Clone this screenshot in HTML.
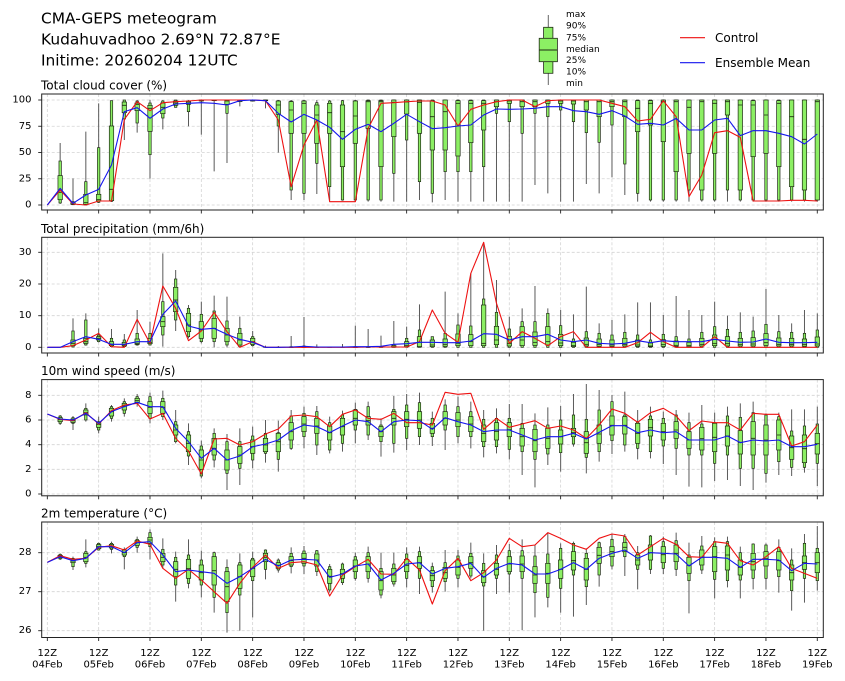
<!DOCTYPE html>
<html><head><meta charset="utf-8">
<style>
html,body{margin:0;padding:0;background:#fff;}
svg{display:block;font-family:"DejaVu Sans","Liberation Sans",sans-serif;}
</style></head><body>
<svg id="s" width="845" height="681" viewBox="0 0 845 681" xmlns="http://www.w3.org/2000/svg">
<rect width="845" height="681" fill="#fff"/>
<defs>
<clipPath id="c0"><rect x="41.7" y="94" width="781.6" height="116"/></clipPath>
<clipPath id="c1"><rect x="41.7" y="237.3" width="781.6" height="115.7"/></clipPath>
<clipPath id="c2"><rect x="41.7" y="379.6" width="781.6" height="116.2"/></clipPath>
<clipPath id="c3"><rect x="41.7" y="522" width="781.6" height="115.5"/></clipPath>
</defs>
<g id="grid"></g>
<g id="data"></g>
<g id="frames"></g>

<g fill="#000" font-size="15.4">
<text x="41" y="23.3">CMA-GEPS meteogram</text>
<text x="41" y="44.5">Kudahuvadhoo 2.69°N 72.87°E</text>
<text x="41" y="65.6">Initime: 20260204 12UTC</text>
</g>
<g fill="#000" font-size="12">
<text x="41" y="89.5">Total cloud cover (%)</text>
<text x="41" y="232.8">Total precipitation (mm/6h)</text>
<text x="41" y="375.1">10m wind speed (m/s)</text>
<text x="41" y="517.5">2m temperature (°C)</text>
<text x="715" y="42.2">Control</text>
<text x="715" y="67.2">Ensemble Mean</text>
</g>
<g fill="#000" font-size="10" text-anchor="end" dominant-baseline="central">
<text x="31.5" y="100">100</text><text x="31.5" y="126.25">75</text><text x="31.5" y="152.5">50</text><text x="31.5" y="178.75">25</text><text x="31.5" y="205">0</text>
<text x="31.5" y="252.3">30</text><text x="31.5" y="284">20</text><text x="31.5" y="315.7">10</text><text x="31.5" y="347.3">0</text>
<text x="31.5" y="395.3">8</text><text x="31.5" y="420">6</text><text x="31.5" y="444.7">4</text><text x="31.5" y="469.3">2</text><text x="31.5" y="494">0</text>
<text x="31.5" y="552.7">28</text><text x="31.5" y="591.7">27</text><text x="31.5" y="630.7">26</text>
</g>
<g fill="#000" font-size="10" text-anchor="middle">
<text x="47.33" y="656">12Z</text><text x="47.33" y="667.5">04Feb</text>
<text x="98.66" y="656">12Z</text><text x="98.66" y="667.5">05Feb</text>
<text x="149.99" y="656">12Z</text><text x="149.99" y="667.5">06Feb</text>
<text x="201.32" y="656">12Z</text><text x="201.32" y="667.5">07Feb</text>
<text x="252.65" y="656">12Z</text><text x="252.65" y="667.5">08Feb</text>
<text x="303.98" y="656">12Z</text><text x="303.98" y="667.5">09Feb</text>
<text x="355.31" y="656">12Z</text><text x="355.31" y="667.5">10Feb</text>
<text x="406.64" y="656">12Z</text><text x="406.64" y="667.5">11Feb</text>
<text x="457.97" y="656">12Z</text><text x="457.97" y="667.5">12Feb</text>
<text x="509.3" y="656">12Z</text><text x="509.3" y="667.5">13Feb</text>
<text x="560.63" y="656">12Z</text><text x="560.63" y="667.5">14Feb</text>
<text x="611.96" y="656">12Z</text><text x="611.96" y="667.5">15Feb</text>
<text x="663.29" y="656">12Z</text><text x="663.29" y="667.5">16Feb</text>
<text x="714.62" y="656">12Z</text><text x="714.62" y="667.5">17Feb</text>
<text x="765.95" y="656">12Z</text><text x="765.95" y="667.5">18Feb</text>
<text x="817.28" y="656">12Z</text><text x="817.28" y="667.5">19Feb</text>
</g>
<!-- legend boxplot glyph -->
<g>
<line x1="548.3" y1="15" x2="548.3" y2="85" stroke="#666" stroke-width="1"/>
<rect x="543.6" y="27.3" width="9.3" height="46" fill="#8cef64" stroke="#1e2a14" stroke-width="0.8"/>
<rect x="539.2" y="38.3" width="18.2" height="23.4" fill="#8cef64" stroke="#1e2a14" stroke-width="0.8"/>
<line x1="539.2" y1="50" x2="557.4" y2="50" stroke="#1e2a14" stroke-width="0.9"/>
</g>
<g fill="#000" font-size="9" dominant-baseline="central">
<text x="566" y="15">max</text>
<text x="566" y="26.7">90%</text>
<text x="566" y="38.3">75%</text>
<text x="566" y="50">median</text>
<text x="566" y="61">25%</text>
<text x="566" y="72.3">10%</text>
<text x="566" y="84">min</text>
</g>
<line x1="680" y1="37.7" x2="705" y2="37.7" stroke="#ee1111" stroke-width="1.1"/>
<line x1="680" y1="62.7" x2="705" y2="62.7" stroke="#1515ee" stroke-width="1.1"/>

<script>
(function(){
const NS="http://www.w3.org/2000/svg";
function el(t,a,p){const e=document.createElementNS(NS,t);for(const k in a)e.setAttribute(k,a[k]);p.appendChild(e);return e;}
const X=i=>47.33+12.833*i;
const gridG=document.getElementById('grid'),dataG=document.getElementById('data'),frG=document.getElementById('frames');
const L=41.7,R=823.3;
const P=[
{y0:90,top:94,bot:210,ticks:[100,126.25,152.5,178.75,205],
red:[345,300,342,345,333,333,88,35,62,38,35,33,30,30,30,30,30,32,90,290,165,90,335,335,335,115,40,38,35,33,33,45,108,58,45,35,30,30,50,32,30,30,30,30,40,50,93,88,32,80,320,255,128,122,142,333,333,333,331,331,333],
blue:[345,295,340,315,298,225,65,53,85,57,42,40,38,40,45,32,30,32,70,96,73,90,112,148,118,103,125,100,73,95,116,113,108,105,75,57,58,57,55,50,50,62,65,73,62,78,103,100,105,85,120,120,90,85,137,122,122,130,140,162,132],
box:[null,
[159,213,257,307,329,339,342],[265,335,338,342,343,344,345],[125,275,313,338,343,345,345],[40,173,313,329,333,337,339],[32,32,108,298,332,334,336],
[30,30,36,46,68,87,150],[30,33,39,43,62,99,128],[30,39,46,55,124,194,266],[30,33,39,52,71,84,118],[30,30,33,39,46,52,52],
[30,33,33,36,43,65,109],[30,30,30,31,33,33,134],[30,30,30,31,32,32,244],[30,30,31,33,43,70,219],[30,30,30,31,35,35,49],
[30,30,30,31,33,33,33],[30,30,30,31,32,32,55],[30,32,33,45,73,108,188],[30,33,35,60,130,300,330],[30,32,33,40,130,310,330],
[30,38,45,75,160,220,312],[30,33,40,68,130,290,332],[30,32,45,125,230,330,332],[30,32,33,78,160,330,335],[30,30,32,35,115,330,335],
[30,30,32,35,230,330,335],[30,30,30,37,140,250,335],[30,30,30,36,72,150,335],[30,30,30,37,130,275,330],[30,30,32,80,180,310,337],
[30,30,30,65,180,245,330],[30,30,32,40,198,245,335],[30,30,32,40,158,245,335],[30,30,32,40,120,230,335],[30,30,30,35,50,70,335],
[30,30,30,33,40,95,335],[30,30,30,35,50,130,335],[30,30,30,35,50,70,285],[30,30,30,33,40,80,310],[30,30,30,33,40,60,335],
[30,30,30,33,42,95,335],[30,30,30,35,60,128,282],[30,30,30,35,80,157,310],[30,30,30,35,50,105,262],[30,30,30,35,80,222,315],
[30,30,32,55,125,310,335],[30,30,32,40,105,330,335],[30,30,30,35,155,330,335],[30,30,30,35,245,330,335],[30,30,30,52,190,300,335],
[30,30,30,35,300,330,335],[30,30,30,40,190,330,335],[30,30,30,35,75,300,335],[30,30,30,45,300,330,335],[30,30,32,45,200,330,335],
[30,30,30,75,190,330,335],[30,30,32,40,230,330,335],[30,30,30,80,290,330,335],[30,30,30,148,300,330,335],[30,30,30,35,330,330,335]]},
{y0:225,top:237.3,bot:353,ticks:[252.3,284,315.7,347.3],
red:[367,367,362,345,325,365,367,283,355,183,250,347,318,262,320,367,350,367,367,367,367,367,367,367,367,366,366,366,366,350,255,325,352,145,52,235,355,320,340,362,335,320,367,367,367,367,353,322,350,367,367,367,335,367,367,367,367,367,367,367,367],
blue:[367,367,350,335,343,358,358,350,350,268,228,303,313,310,328,343,352,367,367,366,364,366,366,366,365,365,364,358,356,352,352,353,353,348,326,328,345,335,335,328,345,350,345,355,357,355,347,353,347,350,350,350,343,348,352,351,342,352,353,353,352],
box:[null,null,
[280,318,345,355,362,366,367],[265,285,340,350,355,360,362],[310,330,335,340,345,350,352],[312,340,350,358,362,365,367],
[327,345,352,360,363,365,367],[255,325,342,355,358,360,362],[290,325,340,352,356,360,362],[85,230,275,290,305,330,365],
[135,162,187,225,260,285,318],[240,250,265,300,320,335,340],[230,268,290,315,340,350,355],[212,258,280,310,340,350,367],
[215,288,310,330,350,360,367],[275,310,325,345,360,365,367],[318,335,340,350,358,362,365],[362,367,367,367,367,367,367],
[363,367,367,367,367,367,367],[333,365,366,367,367,367,367],[276,363,365,366,367,367,367],[358,367,367,367,367,367,367],
[366,367,367,367,367,367,367],[357,367,367,367,367,367,367],[302,365,366,367,367,367,367],[312,365,366,367,367,367,367],
[332,366,367,367,367,367,367],[288,358,362,365,367,367,367],[305,340,350,362,365,367,367],[238,315,335,365,366,367,367],
[335,335,345,360,365,367,367],[200,325,342,359,364,367,367],[265,300,327,355,362,367,367],[145,303,329,350,362,367,367],
[52,222,240,355,362,367,367],[165,262,304,345,359,367,367],[275,312,334,356,363,367,367],[250,290,305,345,362,367,367],
[183,290,321,352,361,367,367],[250,265,305,350,360,367,367],[255,302,328,354,362,367,367],[268,342,352,362,365,367,367],
[185,320,339,358,363,367,367],[295,325,342,359,364,367,367],[285,330,345,360,364,367,367],[268,322,340,358,363,367,367],
[232,330,345,360,364,367,367],[232,345,354,363,365,367,367],[270,328,344,359,364,367,367],[213,335,348,361,364,367,367],
[255,342,352,362,365,367,367],[270,322,340,358,363,367,367],[230,305,330,355,362,367,367],[272,313,335,356,363,367,367],
[262,322,340,358,363,367,367],[275,318,338,357,363,367,367],[192,298,326,353,361,367,367],[270,320,339,358,363,367,367],
[295,322,340,358,363,367,367],[255,325,342,359,364,367,367],[265,315,336,357,363,367,367]]},
{y0:370,top:379.6,bot:495.8,ticks:[395.3,420,444.7,469.3,494],
red:[132,148,152,128,162,122,105,100,147,130,205,243,312,207,205,225,215,192,177,138,135,140,170,133,120,145,148,130,158,158,165,67,73,70,178,145,172,162,152,175,168,180,205,165,117,130,157,128,115,138,182,153,158,158,180,130,133,133,228,215,165],
blue:[132,147,150,130,160,125,110,97,110,110,175,215,265,235,270,258,230,222,210,182,165,170,188,168,150,155,185,155,150,152,178,143,155,165,185,180,180,195,210,200,200,190,207,187,167,167,188,180,188,185,210,210,210,198,218,210,213,210,230,230,223],
box:[null,
[135,138,143,149,155,160,165],[138,143,147,152,157,160,180],[100,115,120,128,135,150,155],[140,155,158,163,172,180,190],[105,110,115,125,138,145,155],
[85,95,100,108,120,130,140],[72,80,85,92,97,100,110],[68,80,95,112,130,145,160],[62,85,95,112,130,140,150],[120,155,165,180,195,215,220],
[160,185,195,220,245,258,285],[212,228,240,270,298,318,325],[175,190,205,235,255,270,292],[192,215,240,270,300,310,360],[175,215,230,255,280,295,345],
[170,198,210,230,250,270,295],[150,190,205,225,245,250,278],[152,188,190,215,245,268,305],[120,138,158,185,210,235,240],[110,130,140,162,185,200,235],
[108,125,145,168,190,225,255],[140,158,168,188,210,240,250],[122,135,145,170,195,220,245],[98,118,120,145,165,180,220],[95,110,140,152,165,195,210],
[145,165,170,185,200,215,260],[78,118,125,145,165,220,248],[72,105,125,148,170,205,240],[68,98,125,150,175,200,225],[125,145,160,175,190,200,228],
[88,105,125,145,165,180,240],[80,110,128,150,170,200,220],[95,125,140,162,185,200,235],[120,148,165,190,215,230,262],[115,145,158,184,210,230,250],
[102,145,158,179,200,238,268],[102,160,175,200,228,245,315],[130,165,178,212,245,268,352],[112,165,175,205,235,252,285],[108,150,180,200,222,248,305],
[72,135,175,188,200,222,230],[42,148,185,218,250,262,310],[60,120,165,192,220,245,275],[75,95,138,166,195,212,252],[65,135,140,166,192,225,245],
[120,155,160,190,220,235,268],[110,138,148,173,198,245,265],[125,145,160,185,210,228,282],[120,135,155,180,205,235,315],[128,158,185,210,235,255,350],
[105,162,172,206,240,255,352],[128,158,160,202,245,280,333],[110,138,168,198,228,255,330],[100,142,182,217,252,295,348],[95,128,155,205,255,295,360],
[130,135,165,210,255,310,338],[128,140,150,195,240,275,315],[118,183,198,233,268,292,318],[118,168,195,236,278,292,308],[110,162,190,221,252,280,348]]},
{y0:510,top:522,bot:637.5,ticks:[552.7,591.7,630.7],
red:[157,137,148,145,112,107,120,93,103,175,205,178,210,245,280,220,172,135,175,158,155,165,258,195,170,148,192,193,145,180,282,182,145,212,188,150,85,110,105,68,85,105,118,85,72,78,135,110,85,103,140,142,95,100,152,165,140,110,175,190,205],
blue:[157,140,152,145,110,110,128,98,95,135,185,180,185,190,220,200,175,148,168,150,148,150,202,192,168,162,210,190,162,158,192,175,170,160,202,175,160,165,192,192,178,158,178,145,130,120,145,128,130,132,168,142,142,145,172,148,148,150,182,160,162],
box:[null,
[130,133,136,140,144,147,150],[140,145,148,153,158,170,180],[88,125,130,142,155,160,172],[98,100,104,110,116,120,122],[95,100,103,108,114,118,130],
[112,118,120,128,135,140,178],[80,88,92,98,106,112,128],[58,68,82,90,100,110,148],[85,118,130,142,155,165,175],[125,142,155,178,200,225,275],
[88,135,148,176,205,220,235],[122,150,165,188,210,225,262],[125,128,140,182,225,262,308],[148,172,185,230,275,308,368],[130,158,165,200,235,255,362],
[125,145,150,175,200,212,322],[118,120,130,142,155,178,208],[145,150,158,166,175,180,188],[112,130,140,152,165,170,190],[108,123,130,145,160,168,192],
[120,122,132,150,168,185,198],[162,170,178,199,220,240,248],[158,162,178,191,205,218,225],[128,140,150,168,185,205,212],[110,128,140,162,185,205,218],
[128,175,185,212,240,255,265],[128,162,175,195,215,222,230],[112,132,148,166,185,205,232],[110,125,140,158,175,205,252],[158,170,182,197,212,230,248],
[120,158,172,188,205,215,245],[120,138,150,172,195,205,232],[98,130,140,158,175,198,205],[130,160,182,200,218,228,362],[105,135,160,178,195,205,252],
[102,122,140,162,185,192,248],[88,122,138,162,185,205,360],[105,138,170,195,220,248,322],[68,132,160,190,220,262,292],[100,115,150,178,205,235,308],
[95,100,125,152,180,195,320],[115,130,145,178,210,230,285],[95,98,112,136,160,195,230],[72,88,110,125,140,168,178],[72,80,98,112,125,140,198],
[108,128,135,150,165,178,238],[75,78,105,128,150,178,192],[80,95,110,134,158,175,192],[68,92,105,130,155,178,198],[98,135,142,166,190,212,310],
[78,108,120,142,165,180,192],[82,95,110,140,185,208,265],[80,95,108,135,180,212,232],[110,128,150,172,195,210,265],[100,102,130,155,180,205,238],
[100,105,125,146,168,205,238],[88,112,125,152,180,200,248],[115,150,165,188,210,242,302],[72,100,138,158,178,205,278],[48,115,128,158,188,212,242]]}
];
const FILL="#8cef64",EDGE="#1e2a14",WW=4.4,NW=2.4;
P.forEach((p,k)=>{
  // grid
  for(let d=0;d<=15;d++){const x=47.33+51.33*d;
    el('line',{x1:x,y1:p.top,x2:x,y2:p.bot,stroke:'#d4d4d4','stroke-width':0.8,'stroke-dasharray':'3,2'},gridG);
    el('line',{x1:x,y1:p.bot,x2:x,y2:p.bot+3.5,stroke:'#222','stroke-width':0.9},frG);}
  p.ticks.forEach(y=>{
    el('line',{x1:L,y1:y,x2:R,y2:y,stroke:'#d4d4d4','stroke-width':0.8,'stroke-dasharray':'3,2'},gridG);
    el('line',{x1:L-3.5,y1:y,x2:L,y2:y,stroke:'#222','stroke-width':0.9},frG);});
  const g=el('g',{'clip-path':'url(#c'+k+')'},dataG);
  const Y=v=>p.y0+v/3;
  // whiskers
  let wp='';
  p.box.forEach((b,i)=>{if(!b)return;wp+='M'+X(i).toFixed(2)+' '+Y(b[0]).toFixed(2)+'V'+Y(b[6]).toFixed(2);});
  el('path',{d:wp,stroke:'#5a5a5a','stroke-width':1,fill:'none'},g);
  p.box.forEach((b,i)=>{if(!b)return;const x=X(i);
    el('rect',{x:x-NW/2,y:Y(b[1]),width:NW,height:Math.max(0,(b[5]-b[1])/3),fill:FILL,stroke:EDGE,'stroke-width':0.7},g);
    el('rect',{x:x-WW/2,y:Y(b[2]),width:WW,height:Math.max(0,(b[4]-b[2])/3),fill:FILL,stroke:EDGE,'stroke-width':0.7},g);
    el('line',{x1:x-WW/2,y1:Y(b[3]),x2:x+WW/2,y2:Y(b[3]),stroke:EDGE,'stroke-width':0.8},g);
  });
  const pts=a=>a.map((v,i)=>X(i).toFixed(2)+','+Y(v).toFixed(2)).join(' ');
  el('polyline',{points:pts(p.red),fill:'none',stroke:'#ee1111','stroke-width':1.1,'stroke-linejoin':'round'},g);
  el('polyline',{points:pts(p.blue),fill:'none',stroke:'#1515ee','stroke-width':1.1,'stroke-linejoin':'round'},g);
  el('rect',{x:L,y:p.top,width:R-L,height:p.bot-p.top,fill:'none',stroke:'#222','stroke-width':1},frG);
});
})();
</script>
</svg>
</body></html>
